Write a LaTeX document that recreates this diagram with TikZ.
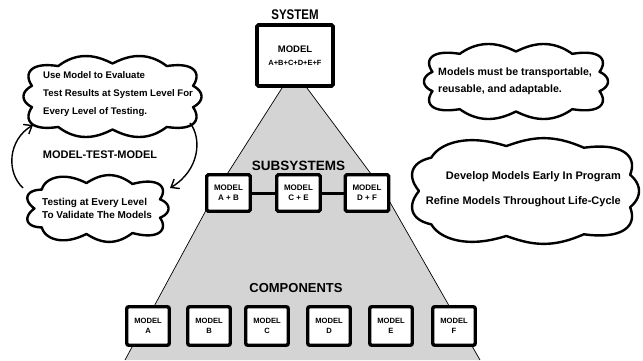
\documentclass[tikz,border=0pt]{standalone}
\usepackage{fontspec}
\setmainfont{Liberation Sans}
\newfontfamily\narrowf[FakeStretch=0.82]{Liberation Sans}
\usetikzlibrary{arrows.meta}
\tikzset{
  thoughtline/.style={draw, line width=2.4pt, fill=white, line join=round},
  bigbox/.style={draw, line width=3.6pt, fill=white, rounded corners=1.5pt, minimum width=76pt, minimum height=61pt, inner sep=0pt, align=center},
  subbox/.style={draw, line width=3.4pt, fill=white, rounded corners=1.5pt, minimum width=43.5pt, minimum height=36.5pt, inner sep=0pt, align=center, font=\bfseries\fontsize{8}{10}\selectfont},
  compbox/.style={draw, line width=3.4pt, fill=white, rounded corners=2pt, minimum width=42.5pt, minimum height=38.5pt, inner sep=0pt, align=center, font=\bfseries\fontsize{7.6}{10}\selectfont},
  levellabel/.style={font=\bfseries\fontsize{13.5}{15}\selectfont, inner sep=0pt},
  cloudtext/.style={font=\bfseries\fontsize{11}{13}\selectfont, inner sep=0pt},
  loop/.style={line width=1.4pt, -{Straight Barb[length=7pt,width=11pt,line width=1.4pt]}},
  edge/.style={line width=0.7pt},
  link/.style={line width=3pt}
}
% cloud outline: centre x, centre y, radius x, radius y, number of puffs
\newcommand{\mycloud}[5]{%
  \path[thoughtline] plot[domain=0:360, samples=361, variable=\t]
    ({#1+cos(\t)*(#3/((abs(cos(\t))+0.0001)^3.5+(abs(sin(\t))+0.0001)^3.5)^(1/3.5)+8*abs(sin(#5*(\t+180/#5)/2)))},
     {#2+sin(\t)*(#4/((abs(cos(\t))+0.0001)^3.5+(abs(sin(\t))+0.0001)^3.5)^(1/3.5)+8*abs(sin(#5*(\t+180/#5)/2)))}) -- cycle;}
\begin{document}
\begin{tikzpicture}[x=1pt,y=-1pt]
\useasboundingbox (0,0) rectangle (643,360);
\fill[white] (0,0) rectangle (643,360);

% cone of levels
\fill[black!17] (282,88) -- (217,190) -- (125,360) -- (480,360) -- (383,190) -- (307,88) -- cycle;
\draw[edge] (282,88) -- (217,190) -- (125,360);
\draw[edge] (307,88) -- (383,190) -- (480,360);

% system
\node[levellabel, font=\narrowf\bfseries\fontsize{14}{16}\selectfont] (lsys) at (295,15) {SYSTEM};
\node[bigbox] (sys) at (295,55.5) {{\fontsize{9.5}{11}\selectfont\bfseries MODEL}\\[1pt]{\fontsize{7.5}{9}\selectfont\bfseries A+B+C+D+E+F}};

% subsystems
\node[levellabel] (lsub) at (298.5,166) {SUBSYSTEMS};
\node[subbox] (sab) at (228.5,193) {MODEL\\A + B};
\node[subbox] (sce) at (298.5,193) {MODEL\\C + E};
\node[subbox] (sdf) at (367,193) {MODEL\\D + F};
\draw[link] (sab) -- (sce);
\draw[link] (sce) -- (sdf);

% components
\node[levellabel, font=\bfseries\fontsize{13}{15}\selectfont] (lcomp) at (296,288) {COMPONENTS};
\node[compbox] (ca) at (148,326) {MODEL\\A};
\node[compbox] (cb) at (209,326) {MODEL\\B};
\node[compbox] (cc) at (267,326) {MODEL\\C};
\node[compbox] (cd) at (329,326) {MODEL\\D};
\node[compbox] (ce) at (391,326) {MODEL\\E};
\node[compbox] (cf) at (454,326) {MODEL\\F};

% clouds on the left
\mycloud{112.5}{96.5}{81}{33}{10}
\node[cloudtext, font=\bfseries\fontsize{9.6}{18}\selectfont, anchor=west, align=left] (t1) at (43,94) {Use Model to Evaluate\\Test Results at System Level For\\Every Level of Testing.};
\mycloud{97.5}{208.5}{63}{25.5}{9}
\node[cloudtext, font=\bfseries\fontsize{10}{13}\selectfont, anchor=west, align=left] (t2) at (42,208.5) {Testing at Every Level\\To Validate The Models};
\node[cloudtext] (mtm) at (100,155) {MODEL-TEST-MODEL};
\coordinate (a1s) at (23,188);
\coordinate (a1e) at (33,125);
\coordinate (a2s) at (190,123);
\coordinate (a2e) at (170,188);
\draw[loop] (a1s) .. controls (6,172) and (8,140) .. (a1e);
\draw[loop] (a2s) .. controls (202,138) and (200,170) .. (a2e);

% clouds on the right
\mycloud{516}{81.5}{84}{30}{10}
\node[cloudtext, font=\bfseries\fontsize{10.6}{17}\selectfont, anchor=west, align=left] (t3) at (438,81.5) {Models must be transportable,\\reusable, and adaptable.};
\mycloud{525}{191}{106}{45}{9}
\node[cloudtext, font=\bfseries\fontsize{11}{25}\selectfont, anchor=east, align=right] (t4) at (621,189.5) {Develop Models Early In Program\\Refine Models Throughout Life-Cycle};
\end{tikzpicture}
\end{document}
